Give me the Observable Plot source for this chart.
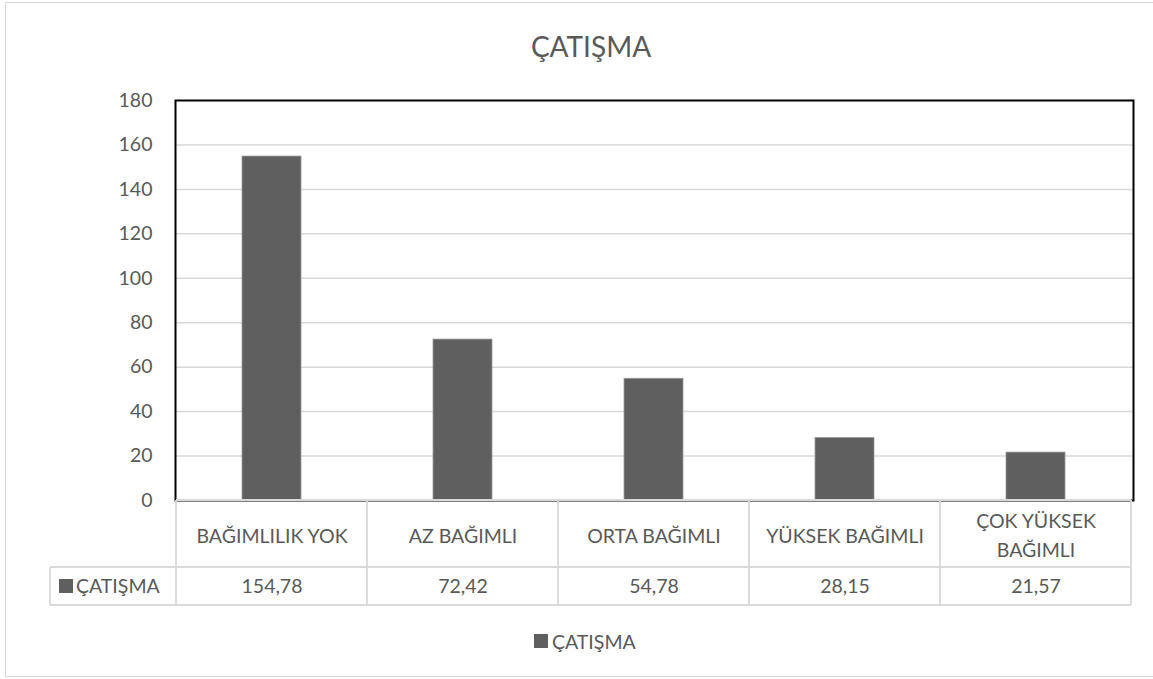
<!DOCTYPE html>
<html>
<head>
<meta charset="utf-8">
<script src="https://cdn.jsdelivr.net/npm/d3@7"></script>
<script src="https://cdn.jsdelivr.net/npm/@observablehq/plot@0.6"></script>
<style>
  html, body { margin: 0; padding: 0; background: #fff; }
  #wrap { position: relative; width: 1153px; height: 679px; overflow: hidden; }
  #border { position: absolute; left: 5px; top: 2px; width: 1200px; height: 675px; border: 1.5px solid #d9d9d9; box-sizing: border-box; }
  #chart { position: absolute; left: 0; top: 0; }
</style>
</head>
<body>
<div id="wrap"><div id="border"></div><div id="chart"></div></div>
<script>
const title = "ÇATIŞMA";
const seriesName = "ÇATIŞMA";
const categories = ["BAĞIMLILIK YOK", "AZ BAĞIMLI", "ORTA BAĞIMLI", "YÜKSEK BAĞIMLI", "ÇOK YÜKSEK BAĞIMLI"];
const categoryLabels = ["BAĞIMLILIK YOK", "AZ BAĞIMLI", "ORTA BAĞIMLI", "YÜKSEK BAĞIMLI", "ÇOK YÜKSEK\nBAĞIMLI"];
const values = [154.78, 72.42, 54.78, 28.15, 21.57];
const yTicks = [0, 20, 40, 60, 80, 100, 120, 140, 160, 180];

const data = categories.map((c, i) => ({cat: c, label: categoryLabels[i], value: values[i], text: values[i].toFixed(2).replace(".", ",")}));

const W = 1153, H = 679;
const FONT = "Lato, 'Open Sans', sans-serif";
const FS = 19.5;
const TXT = "#595959";
const GRID = "#d9d9d9";
const BAR = "#5f5f5f";

const plot = Plot.plot({
  width: W, height: H,
  marginTop: 100, marginBottom: H - 500, marginLeft: 175, marginRight: W - 1133,
  style: {fontFamily: FONT, fontSize: FS + "px", color: TXT, background: "transparent", overflow: "visible"},
  x: {domain: categories, paddingInner: 0.69, paddingOuter: 0.345, axis: null},
  y: {domain: [0, 180], ticks: yTicks, axis: null},
  marks: [
    Plot.gridY(yTicks.filter(t => t > 0 && t < 180), {stroke: GRID, strokeOpacity: 1, strokeWidth: 1.5}),
    Plot.axisY(yTicks, {tickSize: 0, tickPadding: 23, fill: TXT, fontSize: FS, textAnchor: "end", label: null}),
    Plot.barY(data, {x: "cat", y: "value", fill: BAR, stroke: "#9a9a9a", strokeWidth: 0.8}),
    Plot.frame({stroke: "#000", strokeWidth: 2}),
    Plot.text(data, {x: "cat", text: "label", frameAnchor: "bottom", lineAnchor: "middle", dy: 33, fill: TXT, fontSize: FS, lineHeight: 1.5}),
    Plot.text(data, {x: "cat", text: "text", frameAnchor: "bottom", lineAnchor: "middle", dy: 86, fill: TXT, fontSize: FS})
  ]
});

const svg = d3.select(plot);
const xs = plot.scale("x");
const step = xs.step, bw = xs.bandwidth;
const bounds = categories.map(c => xs.apply(c) - (step - bw) / 2);
bounds.push(bounds[bounds.length - 1] + step);
const x0 = bounds[0], x1 = bounds[bounds.length - 1];

const g = svg.append("g").attr("stroke", GRID).attr("stroke-width", 1.8).attr("fill", "none");
g.append("line").attr("x1", x0).attr("x2", x1).attr("y1", 500).attr("y2", 500);
g.append("line").attr("x1", 50).attr("x2", x1).attr("y1", 567).attr("y2", 567);
g.append("line").attr("x1", 50).attr("x2", x1).attr("y1", 605).attr("y2", 605);
bounds.forEach(b => g.append("line").attr("x1", b).attr("x2", b).attr("y1", 500).attr("y2", 605));
g.append("line").attr("x1", 50).attr("x2", 50).attr("y1", 567).attr("y2", 605);

// series key in table
svg.append("rect").attr("x", 59).attr("y", 579).attr("width", 14).attr("height", 14).attr("fill", BAR);
svg.append("text").attr("x", 76).attr("y", 586).attr("dy", "0.35em").attr("fill", TXT).attr("text-anchor", "start")
  .attr("font-size", FS).attr("font-family", FONT).text(seriesName);

// title
svg.append("text").attr("x", 591).attr("y", 47).attr("dy", "0.35em").attr("text-anchor", "middle")
  .attr("fill", TXT).attr("font-size", 28).attr("font-family", FONT).text(title);

// legend
svg.append("rect").attr("x", 534).attr("y", 634).attr("width", 14).attr("height", 14).attr("fill", BAR);
svg.append("text").attr("x", 552).attr("y", 642).attr("dy", "0.35em").attr("fill", TXT).attr("text-anchor", "start")
  .attr("font-size", FS).attr("font-family", FONT).text(seriesName);

document.getElementById("chart").appendChild(plot);
</script>
</body>
</html>
